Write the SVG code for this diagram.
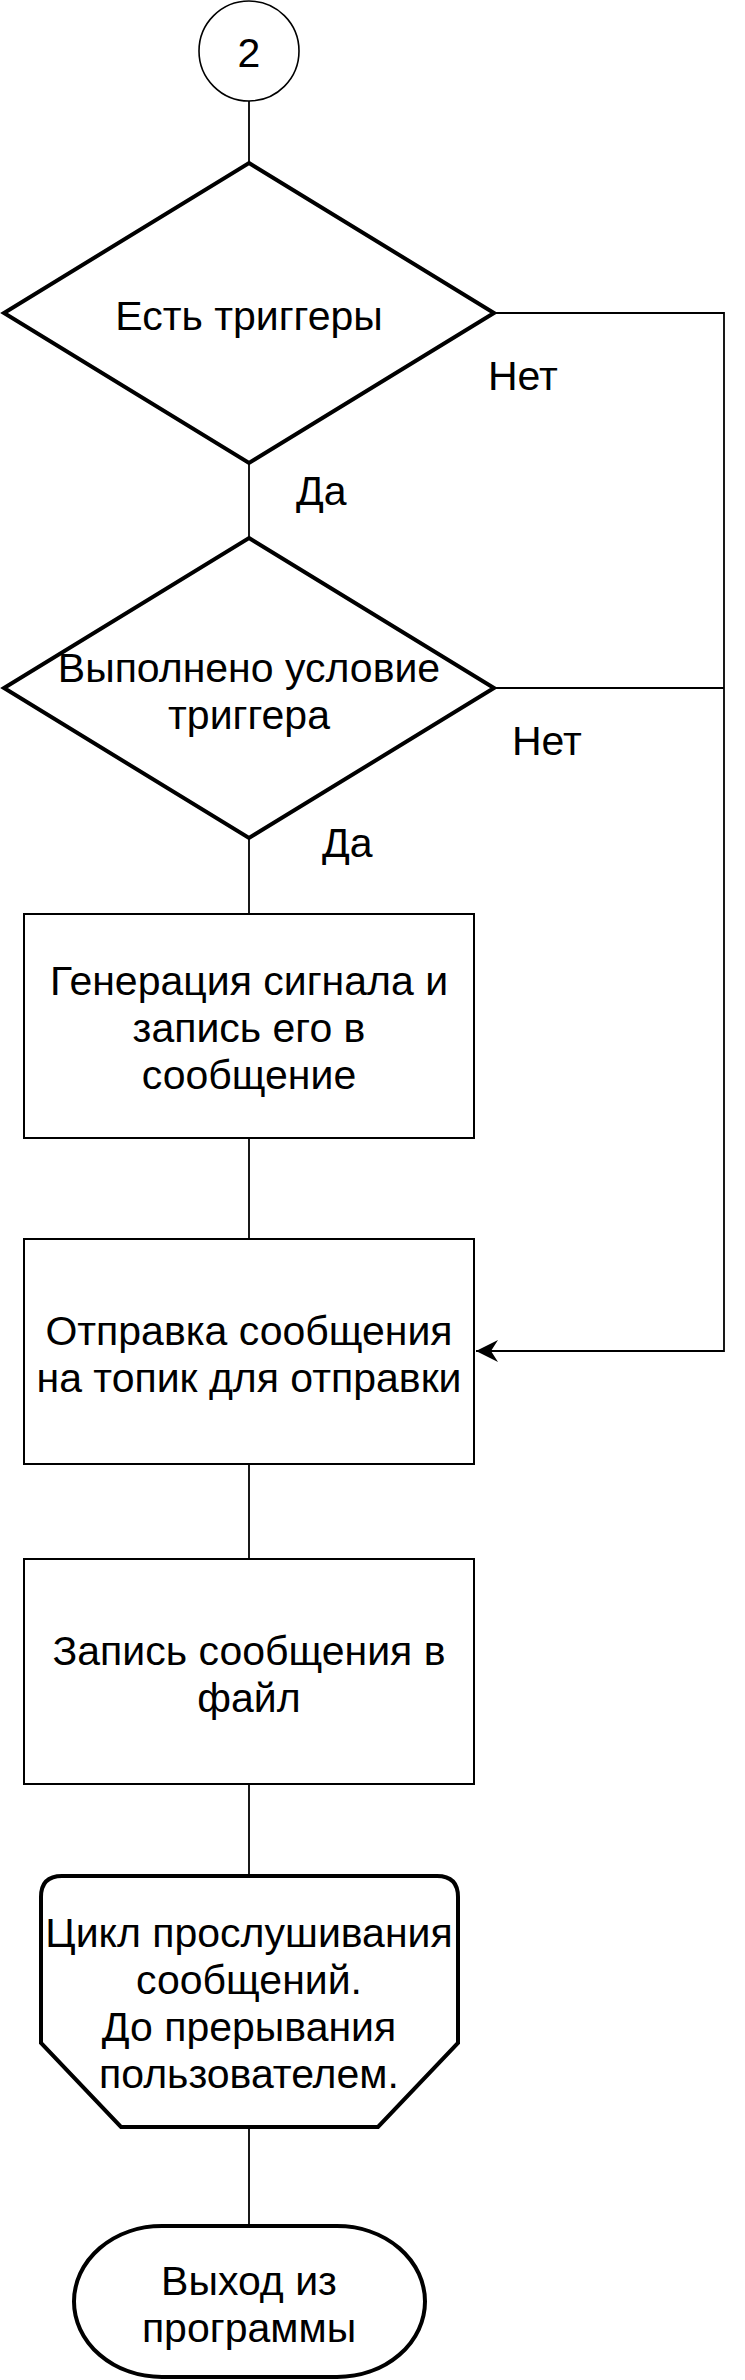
<svg xmlns="http://www.w3.org/2000/svg" width="745" height="2380" viewBox="0 0 745 2380">
<style>
.t{font-family:"Liberation Sans",Arial,sans-serif;font-size:41px;fill:#000;text-anchor:middle}
.l{font-family:"Liberation Sans",Arial,sans-serif;font-size:41px;fill:#000}
.thick{fill:#fff;stroke:#000;stroke-width:4}
.box{fill:#fff;stroke:#000;stroke-width:2}
.thin{fill:#fff;stroke:#000;stroke-width:1.6}
.c{fill:none;stroke:#000;stroke-width:1.8}
</style>
<defs>
<marker id="arr" markerWidth="24" markerHeight="24" refX="22" refY="11" orient="auto" markerUnits="userSpaceOnUse">
<path d="M22,11 L0,0 L7,11 L0,22 Z" fill="#000"/>
</marker>
</defs>
<rect width="745" height="2380" fill="#fff"/>
<g id="connectors">
<path class="c" d="M249,100 V163"/>
<path class="c" d="M249,463 V537"/>
<path class="c" d="M249,838 V914"/>
<path class="c" d="M249,1138 V1239"/>
<path class="c" d="M249,1464 V1559"/>
<path class="c" d="M249,1784 V1875"/>
<path class="c" d="M249,2127 V2225"/>
<path class="c" d="M494,313 H724 V1351 H476" marker-end="url(#arr)"/>
<path class="c" d="M494,688 H724"/>
<text class="l" x="488" y="390">Нет</text>
<text class="l" x="296" y="505">Да</text>
<text class="l" x="512" y="755">Нет</text>
<text class="l" x="322" y="857">Да</text>
</g>
<g id="start">
<circle class="thin" cx="249" cy="51" r="50"/>
<text class="t" x="249" y="67">2</text>
</g>
<g id="has-triggers">
<path class="thick" d="M249,163 L494,313 L249,463 L4,313 Z"/>
<text class="t" x="249" y="330">Есть триггеры</text>
</g>
<g id="condition">
<path class="thick" d="M249,538 L494,688 L249,838 L4,688 Z"/>
<text class="t" x="249" y="682">Выполнено условие</text>
<text class="t" x="249" y="729">триггера</text>
</g>
<g id="generate">
<rect class="box" x="24" y="914" width="450" height="224"/>
<text class="t" x="249" y="995">Генерация сигнала и</text>
<text class="t" x="249" y="1042">запись его в</text>
<text class="t" x="249" y="1089">сообщение</text>
</g>
<g id="send">
<rect class="box" x="24" y="1239" width="450" height="225"/>
<text class="t" x="249" y="1345">Отправка сообщения</text>
<text class="t" x="249" y="1392">на топик для отправки</text>
</g>
<g id="write">
<rect class="box" x="24" y="1559" width="450" height="225"/>
<text class="t" x="249" y="1665">Запись сообщения в</text>
<text class="t" x="249" y="1712">файл</text>
</g>
<g id="loop">
<path class="thick" d="M62,1876 H437 Q458,1876 458,1897 V2043 L378,2127 H121 L41,2043 V1897 Q41,1876 62,1876 Z"/>
<text class="t" x="249" y="1947">Цикл прослушивания</text>
<text class="t" x="249" y="1994">сообщений.</text>
<text class="t" x="249" y="2041">До прерывания</text>
<text class="t" x="249" y="2088">пользователем.</text>
</g>
<g id="exit">
<path class="thick" d="M162,2226 H337 A88,75.5 0 0 1 337,2377 H162 A88,75.5 0 0 1 162,2226 Z"/>
<text class="t" x="249" y="2295">Выход из</text>
<text class="t" x="249" y="2342">программы</text>
</g>
</svg>
